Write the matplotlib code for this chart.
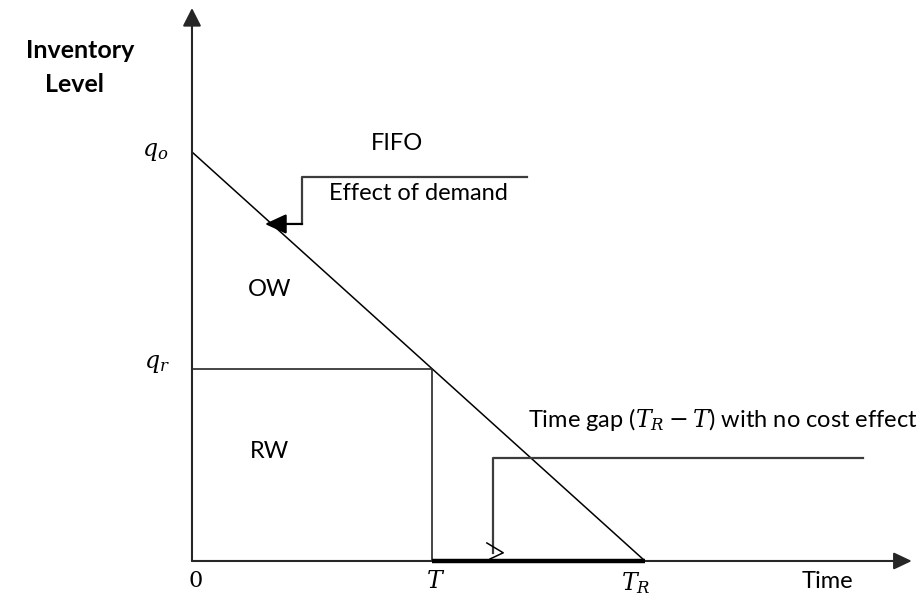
import matplotlib
matplotlib.use("Agg")
import matplotlib.pyplot as plt

plt.rcParams['font.family'] = ['Lato', 'DejaVu Sans']
plt.rcParams['mathtext.fontset'] = 'dejavuserif'

# model values (time and inventory in arbitrary units)
q_o = 10.0
T_R = 10.0
T = 5.3
q_r = q_o * (1 - T / T_R)

time_pts = [0, T_R]
level_pts = [q_o, 0]

# axes extents
x_end = 15.89
y_end = 13.52

fig = plt.figure(figsize=(9.24, 6), dpi=100)
ax = fig.add_axes([0, 0, 1, 1])
ax.set_xlim(-4.238, 16.159)
ax.set_ylim(-0.954, 13.716)
ax.axis('off')

ax_col = '#262626'
br_col = '#3c3c3c'

# axes arrows
ax.annotate('', xy=(0, y_end), xytext=(0, 0),
            arrowprops=dict(arrowstyle='-|>,head_length=0.55,head_width=0.28',
                            color=ax_col, lw=1.5, mutation_scale=20,
                            shrinkA=0, shrinkB=0))
ax.annotate('', xy=(x_end, 0), xytext=(0, 0),
            arrowprops=dict(arrowstyle='-|>,head_length=0.55,head_width=0.26',
                            color=ax_col, lw=1.5, mutation_scale=20,
                            shrinkA=0, shrinkB=0))

# demand line
ax.plot(time_pts, level_pts, color='black', lw=1.1, solid_capstyle='butt')

# rented warehouse box
ax.plot([0, T, T], [q_r, q_r, 0], color=ax_col, lw=1.2)

# time gap on the axis
ax.plot([T, T_R], [0, 0], color='black', lw=3.2, solid_capstyle='butt',
        zorder=4)

# FIFO bracket
fx0, fx1, fy0, fy1, ftip = 2.43, 7.40, 9.39, 8.24, 1.61
ax.plot([fx1, fx0, fx0], [fy0, fy0, fy1], color=br_col, lw=1.6)
ax.annotate('', xy=(ftip, fy1), xytext=(fx0, fy1),
            arrowprops=dict(arrowstyle='-|>,head_length=0.65,head_width=0.3',
                            color='black', lw=1.6, mutation_scale=20,
                            shrinkA=0, shrinkB=0))

# time gap bracket with open chevron head
gx0, gx1, gy0, gy1 = 6.64, 14.81, 2.52, 0.2
ax.plot([gx1, gx0, gx0], [gy0, gy0, gy1], color=br_col, lw=1.6)
ax.plot([6.51, 6.87, 6.58], [0.44, 0.20, 0.05], color='black', lw=1.1)

# labels
ax.text(-2.46, 12.47, 'Inventory', fontsize=18, fontweight='bold',
        ha='center', va='center')
ax.text(-2.60, 11.66, 'Level', fontsize=18, fontweight='bold',
        ha='center', va='center')
ax.text(-0.82, q_o, '$q_o$', fontsize=17, ha='center', va='center')
ax.text(-0.78, q_r + 0.12, '$q_r$', fontsize=17, ha='center', va='center')
ax.text(0.07, -0.49, '0', fontsize=16, ha='center', va='center',
        family='DejaVu Serif')
ax.text(T + 0.07, -0.49, '$T$', fontsize=17, ha='center', va='center')
ax.text(T_R - 0.2, -0.53, '$T_R$', fontsize=17, ha='center', va='center')
ax.text(14.02, -0.49, 'Time', fontsize=17, ha='center', va='center')

ax.text(4.53, 10.2, 'FIFO', fontsize=17, ha='center', va='center')
ax.text(5.0, 8.99, 'Effect of demand', fontsize=17, ha='center', va='center')
ax.text(1.72, 6.63, 'OW', fontsize=17, ha='center', va='center')
ax.text(1.72, 2.67, 'RW', fontsize=17, ha='center', va='center')
ax.text(16.03, 3.45, 'Time gap ($T_R-T$) with no cost effect', fontsize=17,
        ha='right', va='center')

fig.savefig('out.png', dpi=100)
